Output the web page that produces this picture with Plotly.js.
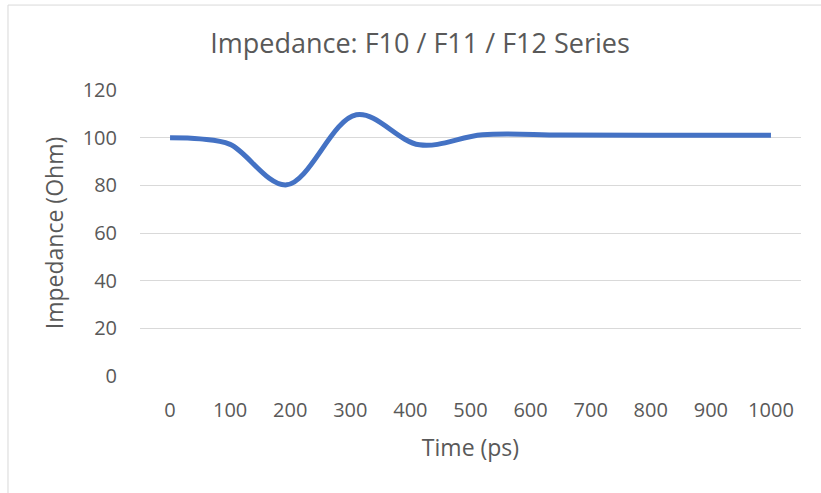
<!DOCTYPE html>
<html>
<head>
<meta charset="utf-8">
<script src="https://cdn.plot.ly/plotly-3.0.1.min.js"></script>
<style>
  html, body { margin: 0; padding: 0; background: #ffffff; }
  #chart { width: 821px; height: 493px; }
</style>
</head>
<body>
<div id="chart"></div>
<script>
// Time (ps) sample points along the curve (extrema)
const timePs = [0, 50, 100, 194, 310, 415, 520, 650, 800, 1000];
// Impedance (Ohm)
const impedanceOhm = [100, 99.5, 97.2, 80.2, 109.6, 97, 101.2, 101.1, 101, 101];
// Axis tick labels
const xTicks = [0, 100, 200, 300, 400, 500, 600, 700, 800, 900, 1000];
const yTicks = [0, 20, 40, 60, 80, 100, 120];

const grey = '#595959';
const font = 'Open Sans, Noto Sans, DejaVu Sans, sans-serif';

const trace = {
  x: timePs,
  y: impedanceOhm,
  type: 'scatter',
  mode: 'lines',
  line: { color: '#4472C4', width: 5, shape: 'spline', smoothing: 1 },
  hoverinfo: 'x+y',
  showlegend: false
};

const layout = {
  width: 821,
  height: 493,
  margin: { l: 140, r: 20, t: 90, b: 117 },
  paper_bgcolor: '#ffffff',
  plot_bgcolor: '#ffffff',
  font: { family: font, color: grey },
  title: {
    text: 'Impedance: F10 / F11 / F12 Series',
    font: { family: font, size: 27, color: grey },
    xref: 'container', x: 0.5116, xanchor: 'center',
    yref: 'container', y: 0.911, yanchor: 'middle'
  },
  xaxis: {
    range: [-50, 1050],
    tickmode: 'array',
    tickvals: xTicks,
    ticktext: xTicks.map(String),
    showgrid: false,
    zeroline: false,
    showline: false,
    ticks: '',
    ticklabelstandoff: 20,
    tickfont: { family: font, size: 20, color: grey },
    title: { text: 'Time (ps)', font: { family: font, size: 23, color: grey }, standoff: 17 },
    fixedrange: true
  },
  yaxis: {
    range: [0, 120],
    tickmode: 'array',
    tickvals: yTicks,
    ticktext: yTicks.map(String),
    showgrid: true,
    gridcolor: '#d9d9d9',
    gridwidth: 1,
    zeroline: false,
    showline: false,
    ticks: '',
    ticklabelstandoff: 22,
    tickfont: { family: font, size: 20, color: grey },
    title: { text: 'Impedance (Ohm)', font: { family: font, size: 23, color: grey }, standoff: 12 },
    fixedrange: true
  },
  shapes: [{
    type: 'rect', xref: 'paper', yref: 'paper',
    x0: -0.1997, x1: 1.2, y0: -0.5, y1: 1.297,
    line: { color: '#d9d9d9', width: 1 },
    fillcolor: 'rgba(0,0,0,0)',
    layer: 'below'
  }]
};

Plotly.newPlot('chart', [trace], layout, { displayModeBar: false, staticPlot: true });
</script>
</body>
</html>
